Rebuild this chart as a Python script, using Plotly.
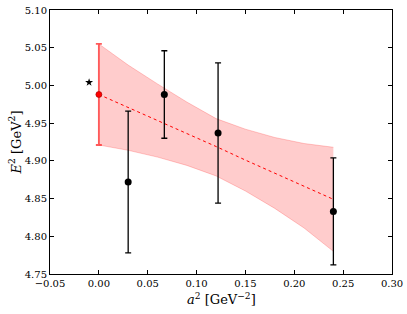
import plotly.graph_objects as go

# Lattice data points
a2 = [0.030, 0.067, 0.122, 0.240]
E2 = [4.872, 4.988, 4.937, 4.833]
E2_err = [0.094, 0.058, 0.093, 0.071]

# Continuum extrapolation
a2_cont = [0.0]
E2_cont = [4.988]
E2_cont_err = [0.067]

# Reference (star)
a2_ref = [-0.010]
E2_ref = [5.004]

# Fit line and error band
fit_x = [0.0, 0.03, 0.06, 0.09, 0.12, 0.15, 0.18, 0.21, 0.24]
fit_y = [4.988, 4.971, 4.953, 4.936, 4.919, 4.901, 4.884, 4.867, 4.849]
band_hi = [5.055, 5.027, 5.002, 4.978, 4.956, 4.942, 4.931, 4.923, 4.918]
band_lo = [4.921, 4.914, 4.905, 4.894, 4.880, 4.860, 4.837, 4.811, 4.780]

xticks = [-0.05, 0.0, 0.05, 0.10, 0.15, 0.20, 0.25, 0.30]
yticks = [4.75, 4.80, 4.85, 4.90, 4.95, 5.00, 5.05, 5.10]

FONT = "DejaVu Serif"

fig = go.Figure()

fig.add_trace(go.Scatter(x=fit_x, y=band_lo, mode="lines",
                         line=dict(color="rgba(255,0,0,0.2)", width=1),
                         showlegend=False, hoverinfo="skip"))
fig.add_trace(go.Scatter(x=fit_x, y=band_hi, mode="lines", fill="tonexty",
                         fillcolor="rgba(255,0,0,0.2)",
                         line=dict(color="rgba(255,0,0,0.2)", width=1),
                         showlegend=False, hoverinfo="skip"))
fig.add_trace(go.Scatter(x=fit_x, y=fit_y, mode="lines",
                         line=dict(color="red", width=1, dash="dot"),
                         showlegend=False))

fig.add_trace(go.Scatter(x=a2, y=E2, mode="markers",
                         marker=dict(color="black", size=7),
                         error_y=dict(type="data", array=E2_err, color="black",
                                      thickness=1.3, width=3),
                         showlegend=False))

fig.add_trace(go.Scatter(x=a2_cont, y=E2_cont, mode="markers",
                         marker=dict(color="red", size=6, line=dict(color="#990000", width=0.6)),
                         error_y=dict(type="data", array=E2_cont_err, color="rgba(255,50,50,0.8)",
                                      thickness=1.8, width=3),
                         showlegend=False))

fig.add_trace(go.Scatter(x=a2_ref, y=E2_ref, mode="markers",
                         marker=dict(color="black", size=6, symbol="star"),
                         showlegend=False))

axis_common = dict(showgrid=False, zeroline=False, showline=True, linecolor="black",
                   linewidth=1, mirror="ticks", ticks="inside", ticklen=4,
                   tickcolor="black", automargin=False,
                   tickfont=dict(family=FONT, size=10, color="black"))

fig.update_xaxes(range=[-0.05, 0.30], tickvals=xticks,
                 ticktext=[f"{v:.2f}".replace("-", "\u2212") for v in xticks],
                 **axis_common)
fig.update_yaxes(range=[4.75, 5.10], tickvals=yticks,
                 ticktext=[f"{v:.2f}" for v in yticks],
                 **axis_common)

fig.add_annotation(text="<i>a</i><sup>2</sup> [GeV<sup>\u22122</sup>]",
                   xref="paper", yref="paper", x=0.5, y=-0.058, yanchor="top",
                   showarrow=False, font=dict(family=FONT, size=13, color="black"))
fig.add_annotation(text="<i>E</i><sup>2</sup> [GeV<sup>2</sup>]",
                   xref="paper", yref="paper", x=-0.072, y=0.5, xanchor="right",
                   textangle=-90, showarrow=False,
                   font=dict(family=FONT, size=13, color="black"))

fig.update_layout(width=407, height=314, margin=dict(l=50, r=15, t=10, b=40),
                  plot_bgcolor="white", paper_bgcolor="white")

fig.write_html("out.html", config={"displayModeBar": False},
               post_script="document.body.style.margin='0';")
